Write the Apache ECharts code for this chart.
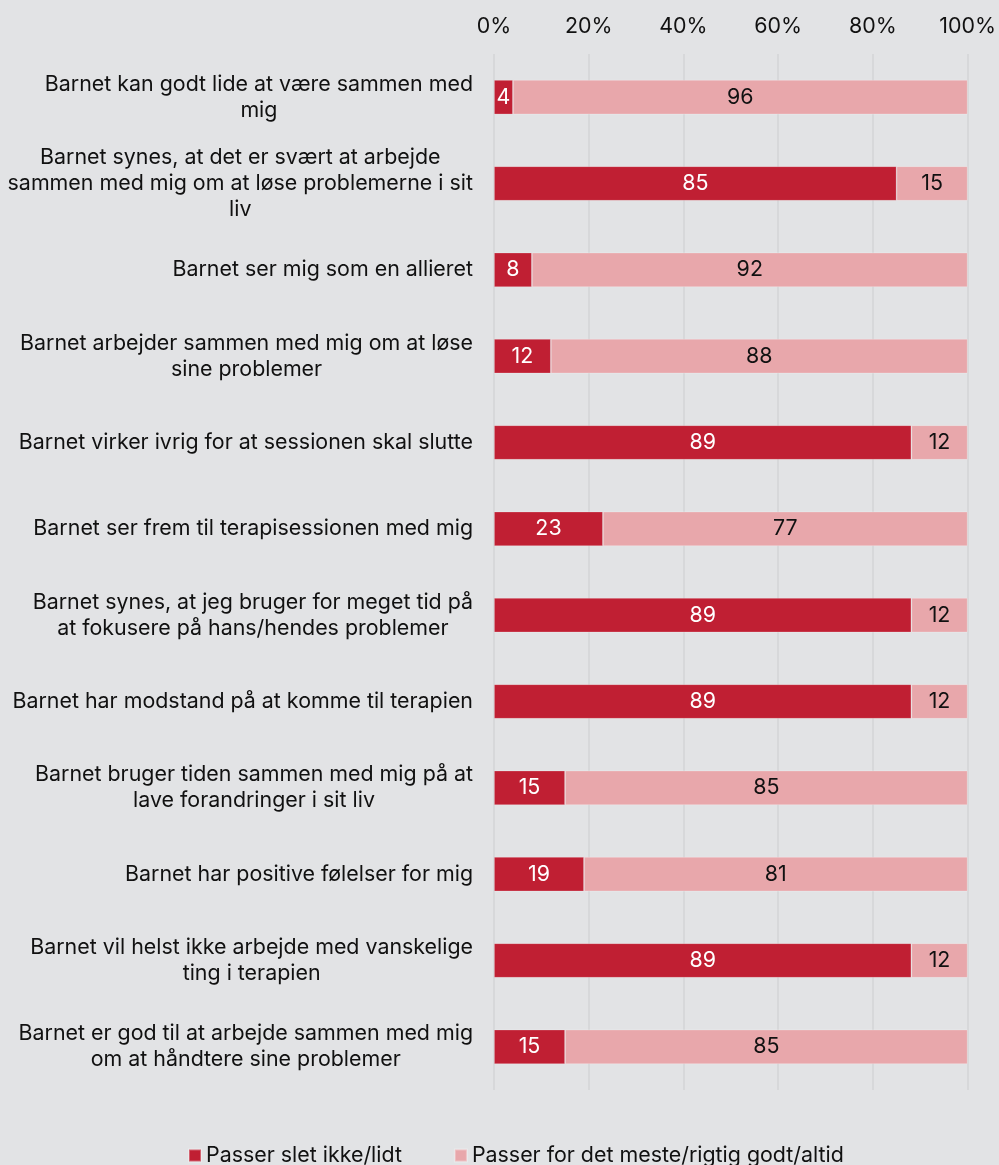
<!DOCTYPE html>
<html><head><meta charset="utf-8">
<script src="https://cdn.jsdelivr.net/npm/echarts@6/dist/echarts.min.js"></script>
<style>html,body{margin:0;padding:0;background:#e2e3e5;}#c{width:999px;height:1165px;}</style>
</head><body><div id="c"></div>
<script>
const categories = [
  "Barnet kan godt lide at være sammen med\nmig",
  "Barnet synes, at det er svært at arbejde\nsammen med mig om at løse problemerne i sit\nliv",
  "Barnet ser mig som en allieret",
  "Barnet arbejder sammen med mig om at løse\nsine problemer",
  "Barnet virker ivrig for at sessionen skal slutte",
  "Barnet ser frem til terapisessionen med mig",
  "Barnet synes, at jeg bruger for meget tid på\nat fokusere på hans/hendes problemer",
  "Barnet har modstand på at komme til terapien",
  "Barnet bruger tiden sammen med mig på at\nlave forandringer i sit liv",
  "Barnet har positive følelser for mig",
  "Barnet vil helst ikke arbejde med vanskelige\nting i terapien",
  "Barnet er god til at arbejde sammen med mig\nom at håndtere sine problemer"
];
const seriesNames = ["Passer slet ikke/lidt", "Passer for det meste/rigtig godt/altid"];
const lowValues = [4, 85, 8, 12, 89, 23, 89, 89, 15, 19, 89, 15];
const highValues = [96, 15, 92, 88, 12, 77, 12, 12, 85, 81, 12, 85];
const tickValues = [0, 20, 40, 60, 80, 100];

// 100% stacked: bar length is each value's share of its row total; label shows the raw value.
const share = (arr, i) => arr[i] / (lowValues[i] + highValues[i]) * 100;
const lowData = lowValues.map((v, i) => ({ value: share(lowValues, i), raw: v }));
const highData = highValues.map((v, i) => ({ value: share(highValues, i), raw: v }));

const font = 'Inter, "Noto Sans", sans-serif';
const FS = 21.4;
const chart = echarts.init(document.getElementById('c'), null, { renderer: 'canvas' });
chart.setOption({
  backgroundColor: '#e2e3e5',
  animation: false,
  textStyle: { fontFamily: font },
  grid: { left: 494, right: 30, top: 54, bottom: 75, containLabel: false },
  legend: {
    top: 1140, left: 183,
    itemWidth: 12, itemHeight: 12, itemGap: 52,
    icon: 'rect',
    textStyle: { fontFamily: font, fontSize: FS, color: '#111' },
    data: seriesNames
  },
  xAxis: {
    type: 'value', position: 'top', min: 0, max: 100, interval: 20,
    axisLine: { show: false }, axisTick: { show: false },
    axisLabel: { formatter: v => tickValues.includes(v) ? v + '%' : '', fontSize: FS, color: '#111', margin: 17, fontFamily: font },
    splitLine: { show: true, lineStyle: { color: '#d3d4d6', width: 1.5 } }
  },
  yAxis: {
    type: 'category', inverse: true, data: categories,
    axisLine: { show: false }, axisTick: { show: false },
    axisLabel: {
      fontSize: FS, color: '#111', margin: 21, align: 'right', lineHeight: 26, fontFamily: font,
      formatter: v => v.split('\n').map(s => '{c|' + s + '}').join('\n'),
      rich: { c: { align: 'center', fontSize: FS, lineHeight: 26, color: '#111', fontFamily: font } }
    }
  },
  series: [
    {
      name: seriesNames[0], type: 'bar', stack: 's', barWidth: '40%',
      data: lowData,
      itemStyle: { color: '#c01f33', borderColor: 'rgba(255,255,255,0.3)', borderWidth: 0.8 },
      label: { show: true, position: 'inside', color: '#fff', fontSize: FS, fontFamily: font, formatter: p => p.data.raw }
    },
    {
      name: seriesNames[1], type: 'bar', stack: 's', barWidth: '40%',
      data: highData,
      itemStyle: { color: '#e8a7ab', borderColor: 'rgba(255,255,255,0.3)', borderWidth: 0.8 },
      label: { show: true, position: 'inside', color: '#111', fontSize: FS, fontFamily: font, formatter: p => p.data.raw }
    }
  ]
});
</script></body></html>
